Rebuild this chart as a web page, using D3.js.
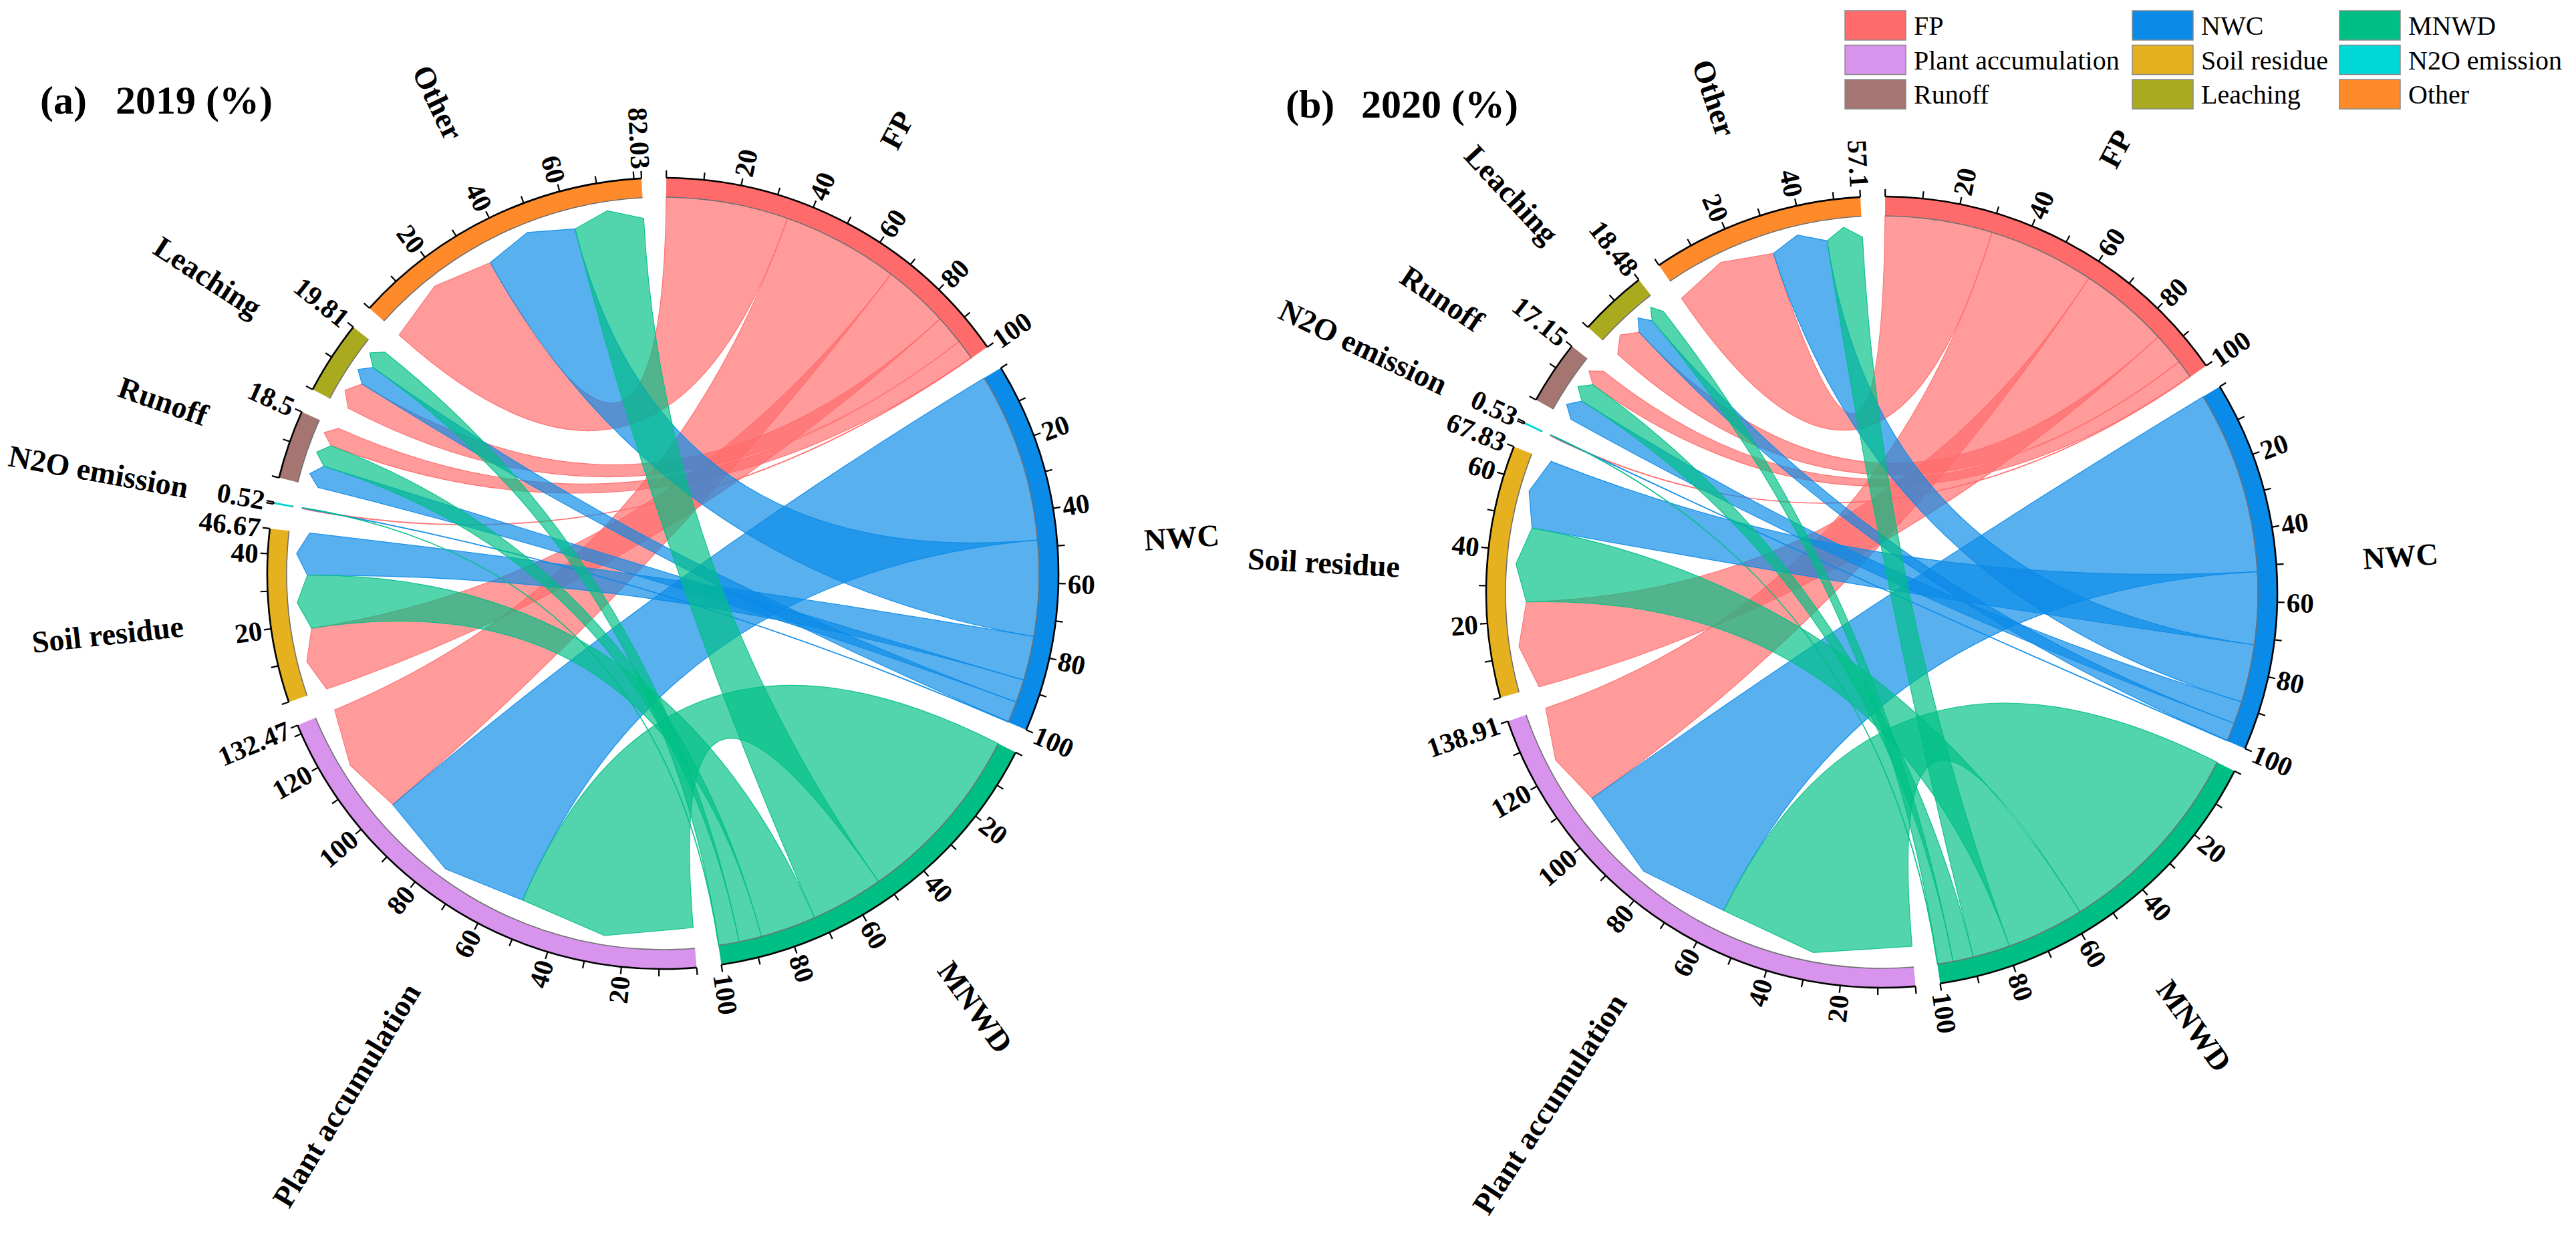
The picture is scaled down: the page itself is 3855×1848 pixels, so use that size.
<!DOCTYPE html>
<head>
  <meta charset="utf-8">
  <style>
    body { margin: 0; background: #fff; }
    text { font-family: "Liberation Serif", "Times New Roman", serif; }
  </style>
  <title>Nitrogen fate chord diagrams 2019 / 2020</title>
</head>
<body>
  <script src="https://d3js.org/d3.v7.min.js"></script>
  <script>
    // canvas
    var width = 3855;
    var height = 1848;

    // sector names (sources first, then targets, clockwise)
    var sourceNames = ["FP", "NWC", "MNWD"];
    var targetNames = ["Plant accumulation", "Soil residue", "N2O emission", "Runoff", "Leaching", "Other"];

    // flows from each source to the targets above (%)
    var fp2019   = [32.97, 18.5, 0.2, 5.6, 8.23, 34.5];
    var nwc2019  = [48, 12.47, 0.17, 6.5, 5.86, 27];
    var mnwd2019 = [51.5, 15.7, 0.15, 6.4, 5.72, 20.53];
    var targetTotals2019 = [132.47, 46.67, 0.52, 18.5, 19.81, 82.03];

    var fp2020   = [30.0, 25.4, 0.2, 5.05, 9.05, 30.3];
    var nwc2020  = [51.6, 20.5, 0.18, 6.3, 5.12, 16.3];
    var mnwd2020 = [57.31, 21.93, 0.15, 5.8, 4.31, 10.5];
    var targetTotals2020 = [138.91, 67.83, 0.53, 17.15, 18.48, 57.1];

    var colors = {
      "FP": "#FF6B6B",
      "NWC": "#0A8BE8",
      "MNWD": "#00BF85",
      "Plant accumulation": "#D894EC",
      "Soil residue": "#E6B11E",
      "N2O emission": "#00D8D8",
      "Runoff": "#A57671",
      "Leaching": "#AAAA1F",
      "Other": "#FF8A29"
    };

    var R = 592;          // outer radius of the sector ring
    var ring = 29;        // ring thickness
    var rIn = R - ring;
    var gapDeg = 3.6;
    var startDeg = 0.5;

    var svg = d3.select("body").append("svg")
      .attr("width", width)
      .attr("height", height);

    svg.append("rect").attr("width", width).attr("height", height).attr("fill", "#fff");

    function rad(d) { return d * Math.PI / 180; }
    function pt(r, deg) { return [r * Math.sin(rad(deg)), -r * Math.cos(rad(deg))]; }

    // radial text: reads outward on the right half, inward on the left half
    function radialText(g, deg, r, str, size, weight) {
      var t = ((deg % 360) + 360) % 360;
      var outward = t > 0 && t < 180;
      return g.append("text")
        .attr("transform", "rotate(" + (deg - 90) + ") translate(" + r + ",0)" + (outward ? "" : " rotate(180)"))
        .attr("text-anchor", outward ? "start" : "end")
        .attr("dy", "0.35em")
        .attr("font-size", size)
        .attr("font-weight", weight)
        .text(str);
    }

    function drawChart(cx, cy, flows, targetTotals) {
      var g = svg.append("g").attr("transform", "translate(" + cx + "," + cy + ")");
      var names = sourceNames.concat(targetNames);
      var sizes = [100, 100, 100].concat(targetTotals);
      var k = (360 - gapDeg * names.length) / d3.sum(sizes);

      var a = startDeg;
      var sectors = names.map(function(n, i) {
        var a0 = a, a1 = a + sizes[i] * k;
        a = a1 + gapDeg;
        return {
          name: n, size: sizes[i], a0: a0, a1: a1,
          scale: d3.scaleLinear().domain([0, sizes[i]]).range([a0, a1])
        };
      });

      // link positions: biggest flow first, clockwise, on both ends
      var srcPos = flows.map(function(row) {
        var pos = [], cum = 0;
        d3.range(row.length).sort(function(x, y) { return row[y] - row[x]; }).forEach(function(t) {
          pos[t] = [cum, cum + row[t]]; cum += row[t];
        });
        return pos;
      });
      var tgtPos = targetNames.map(function(_, t) {
        var pos = [], cum = 0;
        d3.range(flows.length).sort(function(x, y) { return flows[y][t] - flows[x][t]; }).forEach(function(s) {
          pos[s] = [cum, cum + flows[s][t]]; cum += flows[s][t];
        });
        return pos;
      });

      var rT = rIn - 31, rTip = rIn - 14;
      var links = g.append("g");
      flows.forEach(function(row, s) {
        var src = sectors[s];
        row.forEach(function(v, t) {
          var tg = sectors[3 + t];
          var s0 = src.scale(srcPos[s][t][0]), s1 = src.scale(srcPos[s][t][1]);
          var t0 = tg.scale(tgtPos[t][s][0]), t1 = tg.scale(tgtPos[t][s][1]);
          var p = d3.path();
          var q = pt(rIn, s0);
          p.moveTo(q[0], q[1]);
          p.arc(0, 0, rIn, rad(s0) - Math.PI / 2, rad(s1) - Math.PI / 2, false);
          q = pt(rT, t0); p.quadraticCurveTo(0, 0, q[0], q[1]);
          q = pt(rTip, (t0 + t1) / 2); p.lineTo(q[0], q[1]);
          q = pt(rT, t1); p.lineTo(q[0], q[1]);
          q = pt(rIn, s0); p.quadraticCurveTo(0, 0, q[0], q[1]);
          p.closePath();
          links.append("path")
            .attr("d", p.toString())
            .attr("fill", colors[src.name])
            .attr("fill-opacity", 0.68)
            .attr("stroke", colors[src.name])
            .attr("stroke-opacity", 0.9)
            .attr("stroke-width", 1.2);
        });
      });

      // sector rings
      var arc = d3.arc().innerRadius(rIn).outerRadius(R);
      sectors.forEach(function(sec) {
        g.append("path")
          .attr("d", arc({ startAngle: rad(sec.a0), endAngle: rad(sec.a1) }))
          .attr("fill", colors[sec.name]);

        var inner = d3.path();
        var ip = pt(rIn, sec.a0);
        inner.moveTo(ip[0], ip[1]);
        inner.arc(0, 0, rIn, rad(sec.a0) - Math.PI / 2, rad(sec.a1) - Math.PI / 2, false);
        g.append("path").attr("d", inner.toString())
          .attr("fill", "none").attr("stroke", "#707070").attr("stroke-width", 1.6);

        var outer = d3.path();
        var op = pt(R, sec.a0);
        outer.moveTo(op[0], op[1]);
        outer.arc(0, 0, R, rad(sec.a0) - Math.PI / 2, rad(sec.a1) - Math.PI / 2, false);
        g.append("path").attr("d", outer.toString())
          .attr("fill", "none").attr("stroke", "#000").attr("stroke-width", 2.6);

        // ticks every 10 plus the end value
        var ticks = d3.range(0, sec.size, 10).concat([sec.size]);
        ticks.forEach(function(v) {
          g.append("line")
            .attr("transform", "rotate(" + (sec.scale(v) - 90) + ")")
            .attr("x1", R).attr("x2", R + 11)
            .attr("stroke", "#000").attr("stroke-width", 2.2);
        });

        // labels every 20, dropped when too close to the end value
        var labels = d3.range(20, sec.size - 5, 20).concat([sec.size]);
        labels.forEach(function(v) {
          radialText(g, sec.scale(v), R + 14, String(v), 41, "bold");
        });

        radialText(g, (sec.a0 + sec.a1) / 2, R + 130, sec.name, 46, "bold");
      });
    }

    drawChart(992, 858, [fp2019, nwc2019, mnwd2019], targetTotals2019);
    drawChart(2816, 886, [fp2020, nwc2020, mnwd2020], targetTotals2020);

    // titles
    function title(x, y, tag, label) {
      svg.append("text").attr("x", x).attr("y", y)
        .attr("font-size", 60).attr("font-weight", "bold").text(tag);
      svg.append("text").attr("x", x + 113).attr("y", y)
        .attr("font-size", 60).attr("font-weight", "bold").text(label);
    }
    title(60, 170, "(a)", "2019 (%)");
    title(1924, 176, "(b)", "2020 (%)");

    // legend, three columns
    var legendCols = [
      ["FP", "Plant accumulation", "Runoff"],
      ["NWC", "Soil residue", "Leaching"],
      ["MNWD", "N2O emission", "Other"]
    ];
    var legendX = [2761, 3191, 3501];
    var legend = svg.append("g");
    legendCols.forEach(function(col, c) {
      col.forEach(function(name, r) {
        var y = 16 + r * 51.5;
        legend.append("rect")
          .attr("x", legendX[c]).attr("y", y)
          .attr("width", 91).attr("height", 44)
          .attr("fill", colors[name])
          .attr("stroke", "#8a8a8a").attr("stroke-width", 1.5);
        legend.append("text")
          .attr("x", legendX[c] + 103).attr("y", y + 22)
          .attr("dy", "0.35em")
          .attr("font-size", 40)
          .text(name);
      });
    });
  </script>
</body>
